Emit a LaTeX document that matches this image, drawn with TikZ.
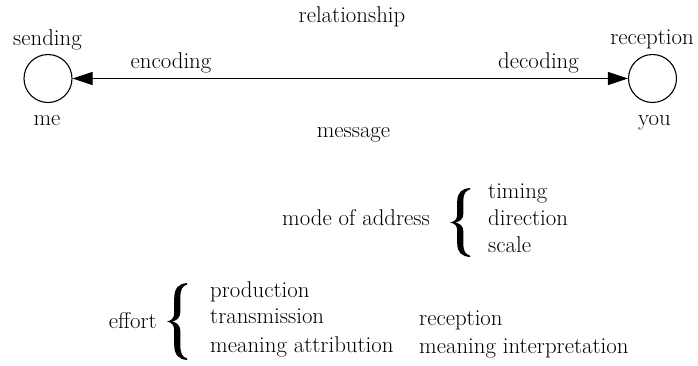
\documentclass[tikz,border=0pt]{standalone}
\usetikzlibrary{arrows.meta}
\tikzset{
  txt/.style={inner sep=0pt, font=\fontsize{22.8}{26}\selectfont},
  ring/.style={circle, draw, line width=1.1pt, minimum size=48pt, inner sep=0pt},
  link/.style={line width=1pt, {Triangle[length=20pt,width=13pt]}-{Triangle[length=20pt,width=13pt]}},
  lbrace/.pic={
    \fill (1,-1) .. controls (0.6,-0.98) and (0.36,-0.88) .. (0.36,-0.6)
      -- (0.36,-0.22) .. controls (0.36,-0.08) and (0.2,-0.02) .. (0,0)
      .. controls (0.2,0.02) and (0.36,0.08) .. (0.36,0.22)
      -- (0.36,0.6) .. controls (0.36,0.88) and (0.6,0.98) .. (1,1)
      -- (1,0.96) .. controls (0.77,0.92) and (0.67,0.84) .. (0.67,0.62)
      -- (0.67,0.25) .. controls (0.67,0.08) and (0.42,0.01) .. (0.24,0)
      .. controls (0.42,-0.01) and (0.67,-0.08) .. (0.67,-0.25)
      -- (0.67,-0.62) .. controls (0.67,-0.84) and (0.77,-0.92) .. (1,-0.96)
      -- cycle;
  }
}
\begin{document}
\begin{tikzpicture}[x=1pt,y=-1pt]
\useasboundingbox (0,0) rectangle (698,365);
% circles
\node[ring] (me) at (48,78.5) {};
\node[ring] (you) at (652.5,78.5) {};
\draw[link] (me) -- (you);
% top labels
\node[txt, anchor=base] (rel) at (352,22) {relationship};
\node[txt, anchor=base] (send) at (47.5,45) {sending};
\node[txt, anchor=base] (rec) at (652,44) {reception};
\node[txt, anchor=base] (enc) at (171,68) {encoding};
\node[txt, anchor=base] (dec) at (538.5,68) {decoding};
\node[txt, anchor=base] (melbl) at (47,125) {me};
\node[txt, anchor=base] (youlbl) at (654.5,125) {you};
\node[txt, anchor=base] (msg) at (353.5,137) {message};
% mode of address
\node[txt, anchor=base east] (mode) at (430,225) {mode of address};
\pic (b1) [xscale=20, yscale=34.5] at (450,222.5) {lbrace};
\node[txt, anchor=base west] (timing) at (488,198) {timing};
\node[txt, anchor=base west] (dir) at (488,225) {direction};
\node[txt, anchor=base west] (scale) at (488,252) {scale};
% effort
\node[txt, anchor=base east] (effort) at (157,328) {effort};
\pic (b2) [xscale=20, yscale=38.5] at (167,321.5) {lbrace};
\node[txt, anchor=base west] (prod) at (210,297) {production};
\node[txt, anchor=base west] (trans) at (210,323) {transmission};
\node[txt, anchor=base west] (attr) at (210,352) {meaning attribution};
\node[txt, anchor=base west] (recep) at (419,325) {reception};
\node[txt, anchor=base west] (interp) at (419,353) {meaning interpretation};
\end{tikzpicture}
\end{document}
